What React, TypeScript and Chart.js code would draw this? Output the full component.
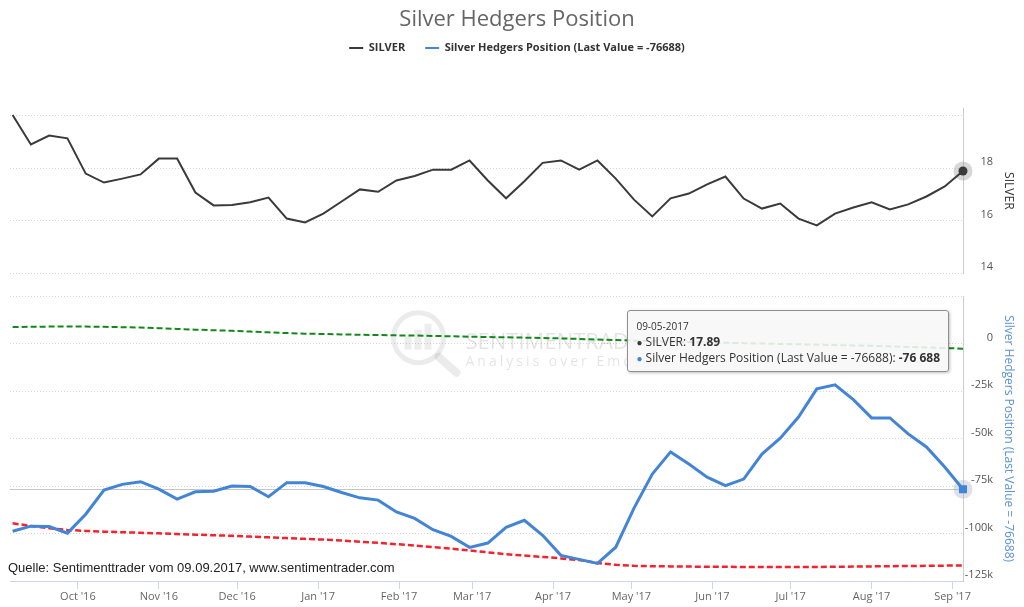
import React, { useEffect, useRef } from 'react';
import { Chart, registerables } from 'chart.js';

Chart.register(...registerables);
Chart.defaults.font.family = "'Open Sans', 'Noto Sans', sans-serif";

// ---------- data ----------
const DATES = [
  '2016-09-06', '2016-09-13', '2016-09-20', '2016-09-27', '2016-10-04', '2016-10-11', '2016-10-18', '2016-10-25',
  '2016-11-01', '2016-11-08', '2016-11-15', '2016-11-22', '2016-11-29', '2016-12-06', '2016-12-13', '2016-12-20',
  '2016-12-27', '2017-01-03', '2017-01-10', '2017-01-17', '2017-01-24', '2017-01-31', '2017-02-07', '2017-02-14',
  '2017-02-21', '2017-02-28', '2017-03-07', '2017-03-14', '2017-03-21', '2017-03-28', '2017-04-04', '2017-04-11',
  '2017-04-18', '2017-04-25', '2017-05-02', '2017-05-09', '2017-05-16', '2017-05-23', '2017-05-30', '2017-06-06',
  '2017-06-13', '2017-06-20', '2017-06-27', '2017-07-04', '2017-07-11', '2017-07-18', '2017-07-25', '2017-08-01',
  '2017-08-08', '2017-08-15', '2017-08-22', '2017-08-29', '2017-09-05',
];

const SILVER = [
  20.02, 18.9, 19.24, 19.13, 17.79, 17.45, 17.6, 17.76,
  18.36, 18.36, 17.07, 16.58, 16.6, 16.7, 16.88, 16.08,
  15.93, 16.27, 16.73, 17.19, 17.1, 17.53, 17.7, 17.94,
  17.94, 18.29, 17.53, 16.85, 17.5, 18.2, 18.29, 17.94,
  18.29, 17.6, 16.8, 16.16, 16.85, 17.03, 17.38, 17.68,
  16.84, 16.46, 16.65, 16.08, 15.82, 16.27, 16.5, 16.7,
  16.43, 16.62, 16.92, 17.3, 17.89,
];

const HEDGERS = [
  -98800, -96100, -96300, -99800, -89800, -77100, -74100, -72700,
  -76600, -81900, -78000, -77700, -75000, -75200, -80600, -73200,
  -73200, -75200, -78400, -81200, -82400, -88600, -92000, -98000,
  -101500, -107300, -105000, -96700, -93000, -100900, -111500, -113600,
  -115700, -107200, -86600, -68700, -57000, -63400, -70300, -74800,
  -71300, -58100, -49800, -38600, -23800, -21700, -29500, -39100,
  -39100, -47500, -54400, -65000, -76688,
];

const UPPER_BAND = [
  8800, 8900, 9000, 9000, 9000, 8900, 8700, 8500,
  8200, 7800, 7400, 7100, 6800, 6400, 6000, 5600,
  5300, 5100, 4900, 4700, 4600, 4400, 4300, 4100,
  3900, 3700, 3500, 3400, 3200, 3000, 2800, 2500,
  2200, 1900, 1600, 1300, 1100, 900, 700, 500,
  300, 100, -100, -300, -500, -700, -900, -1100,
  -1400, -1700, -2000, -2300, -2600,
];

const LOWER_BAND = [
  -94600, -96000, -97200, -98100, -98600, -99000, -99300, -99600,
  -99900, -100300, -100600, -100900, -101200, -101600, -102000, -102400,
  -102800, -103200, -103700, -104300, -104900, -105600, -106300, -107100,
  -108000, -108900, -109900, -110900, -111600, -112300, -113100, -114000,
  -115500, -116500, -117000, -117200, -117300, -117400, -117500, -117500,
  -117600, -117600, -117600, -117600, -117600, -117500, -117400, -117300,
  -117200, -117100, -117000, -116900, -116800,
];

const X_START = '2016-09-05';
const X_END = '2017-09-05';
const MONTH_TICKS = [
  '2016-10-01', '2016-11-01', '2016-12-01', '2017-01-01', '2017-02-01', '2017-03-01',
  '2017-04-01', '2017-05-01', '2017-06-01', '2017-07-01', '2017-08-01', '2017-09-01',
];
const MONTH_LABELS = [
  "Oct '16", "Nov '16", "Dec '16", "Jan '17", "Feb '17", "Mar '17",
  "Apr '17", "May '17", "Jun '17", "Jul '17", "Aug '17", "Sep '17",
];
const SILVER_TICKS = [14, 16, 18, 20];
const SILVER_LABELED = [14, 16, 18];
const SILVER_MIN = 14;
const SILVER_MAX = 20.27;
const HEDGER_TICKS = [-125000, -100000, -75000, -50000, -25000, 0, 25000];
const HEDGER_LABELED = [-125000, -100000, -75000, -50000, -25000, 0];
const HEDGER_MIN = -125000;
const HEDGER_MAX = 25000;

const TITLE = 'Silver Hedgers Position';
const HEDGE_LABEL = `Silver Hedgers Position (Last Value = ${HEDGERS[HEDGERS.length - 1]})`;
const SOURCE = 'Quelle: Sentimenttrader vom 09.09.2017, www.sentimentrader.com';

// ---------- helpers ----------
const DAY = 86400000;
const dayOf = (s: string) => (Date.parse(s) - Date.parse(X_START)) / DAY;
const fmtThousands = (v: number) => {
  const s = Math.abs(Math.round(v)).toString().replace(/\B(?=(\d{3})+(?!\d))/g, ' ');
  return (v < 0 ? '-' : '') + s;
};
const fmtDate = (s: string) => {
  const [y, m, d] = s.split('-');
  return `${m}-${d}-${y}`;
};
const fmtK = (v: number) => (v === 0 ? '0' : `${v / 1000}k`);

const DARK = '#3a3a3a';
const BLUE = '#4285d7';
const GREEN = '#11891a';
const RED = '#f5222d';

const overlayPlugin = {
  id: 'overlay',
  beforeDatasetsDraw(chart: any) {
    const { ctx, chartArea } = chart;
    const cx = (chartArea.left + chartArea.right) / 2;
    const cy = (chartArea.top + chartArea.bottom) / 2;
    ctx.save();
    // watermark logo
    const lx = cx - 68;
    const ly = cy - 7;
    ctx.strokeStyle = 'rgba(0,0,0,0.08)';
    ctx.lineWidth = 5;
    ctx.beginPath();
    ctx.arc(lx, ly, 25, 0, Math.PI * 2);
    ctx.stroke();
    ctx.lineWidth = 8;
    ctx.lineCap = 'round';
    ctx.beginPath();
    ctx.moveTo(lx + 20, ly + 19);
    ctx.lineTo(lx + 38, ly + 35);
    ctx.stroke();
    ctx.fillStyle = 'rgba(0,0,0,0.07)';
    ctx.fillRect(lx - 14, ly - 2, 7, 14);
    ctx.fillRect(lx - 4, ly - 8, 7, 20);
    ctx.fillRect(lx + 6, ly - 14, 7, 26);
    // watermark text
    ctx.fillStyle = 'rgba(0,0,0,0.11)';
    ctx.textBaseline = 'alphabetic';
    ctx.textAlign = 'left';
    ctx.font = "22px 'Open Sans'";
    ctx.fillText('SENTIMENTRADER', cx - 21, cy + 4);
    ctx.font = "14px 'Open Sans'";
    (ctx as any).letterSpacing = '3px';
    ctx.fillText('Analysis over Emotion', cx - 21, cy + 21);
    (ctx as any).letterSpacing = '0px';

    // crosshair + halos for active points
    const active = chart.getActiveElements();
    active.forEach((a: any) => {
      const el = a.element;
      if (a.datasetIndex === 1) {
        ctx.strokeStyle = '#c4c4c4';
        ctx.lineWidth = 1;
        ctx.beginPath();
        ctx.moveTo(chartArea.left, Math.round(el.y) + 0.5);
        ctx.lineTo(chartArea.right, Math.round(el.y) + 0.5);
        ctx.stroke();
      }
      ctx.fillStyle = a.datasetIndex === 1 ? 'rgba(160,172,190,0.35)' : 'rgba(140,140,140,0.35)';
      ctx.beginPath();
      ctx.arc(el.x, el.y, 9.5, 0, Math.PI * 2);
      ctx.fill();
    });
    ctx.restore();
  },
  afterDatasetsDraw(chart: any) {
    const { ctx, chartArea } = chart;
    ctx.save();
    ctx.font = "13px 'Liberation Sans', Arial, sans-serif";
    ctx.fillStyle = '#222';
    ctx.textBaseline = 'middle';
    ctx.textAlign = 'left';
    ctx.fillText(SOURCE, 8, chartArea.bottom - 13);
    ctx.restore();
  },
};

const legendSpacer = {
  id: 'legendSpacer',
  beforeInit(chart: any) {
    const legend = chart.legend;
    if (!legend) return;
    const orig = legend.fit;
    legend.fit = function () {
      orig.call(this);
      this.height += 45;
    };
  },
};

// right-align the y tick labels at a fixed distance from the axis line
const rightAlignLabels = (s: any, offset: number) => {
  s.width = 61;
  s._getYAxisLabelAlignment = () => ({ textAlign: 'right', x: s.left + offset });
};

export default function App() {
  const canvasRef = useRef<HTMLCanvasElement | null>(null);
  const tipRef = useRef<HTMLDivElement | null>(null);

  useEffect(() => {
    document.body.style.margin = '0';
    const canvas = canvasRef.current;
    if (!canvas) return;
    const pts = (vals: number[]) => DATES.map((d, i) => ({ x: dayOf(d), y: vals[i] }));

    const external = ({ chart, tooltip }: any) => {
      const el = tipRef.current;
      if (!el) return;
      if (!tooltip || tooltip.opacity === 0 || !tooltip.dataPoints || !tooltip.dataPoints.length) {
        el.style.display = 'none';
        return;
      }
      const items = tooltip.dataPoints;
      const idx = items[0].dataIndex;
      const rows = items
        .map((it: any) => {
          const color = it.datasetIndex === 0 ? DARK : BLUE;
          const v = it.datasetIndex === 0 ? Number(it.raw.y).toFixed(2) : fmtThousands(it.raw.y);
          return `<div style="font-size:12px;line-height:15px"><span style="color:${color};font-size:10px">\u25CF</span> ${it.dataset.label}: <b>${v}</b></div>`;
        })
        .join('');
      el.innerHTML = `<div style="font-size:10px;line-height:15px">${fmtDate(DATES[idx])}</div>${rows}`;
      el.style.display = 'block';
      el.style.top = `${chart.scales.yHedge.top + 14}px`;
      el.style.right = `${chart.width - tooltip.caretX + 14}px`;
    };

    const chart = new Chart(canvas, {
      type: 'line',
      data: {
        datasets: [
          {
            label: 'SILVER',
            data: pts(SILVER),
            xAxisID: 'x',
            yAxisID: 'ySilver',
            borderColor: DARK,
            backgroundColor: DARK,
            borderWidth: 2,
            pointRadius: 0,
            pointHoverRadius: 4.5,
            pointHoverBorderWidth: 0,
            pointHoverBackgroundColor: DARK,
            tension: 0,
            clip: 12,
          },
          {
            label: HEDGE_LABEL,
            data: pts(HEDGERS),
            xAxisID: 'x',
            yAxisID: 'yHedge',
            borderColor: BLUE,
            backgroundColor: BLUE,
            borderWidth: 3,
            pointRadius: 0,
            pointStyle: 'rect',
            pointHoverRadius: 5.7,
            pointHoverBorderWidth: 0,
            pointHoverBackgroundColor: BLUE,
            tension: 0,
            clip: 12,
          },
          {
            label: 'Upper band',
            data: pts(UPPER_BAND),
            xAxisID: 'x',
            yAxisID: 'yHedge',
            borderColor: GREEN,
            backgroundColor: GREEN,
            borderWidth: 2,
            borderDash: [6, 3],
            pointRadius: 0,
            pointHoverRadius: 0,
            tension: 0,
          },
          {
            label: 'Lower band',
            data: pts(LOWER_BAND),
            xAxisID: 'x',
            yAxisID: 'yHedge',
            borderColor: RED,
            backgroundColor: RED,
            borderWidth: 2.5,
            borderDash: [6, 3],
            pointRadius: 0,
            pointHoverRadius: 0,
            tension: 0,
          },
        ],
      },
      options: {
        animation: false,
        responsive: true,
        maintainAspectRatio: false,
        events: [],
        interaction: { mode: 'index', intersect: false },
        layout: { padding: { left: 10, right: 0, top: 0, bottom: 0 } },
        scales: {
          x: {
            type: 'linear',
            min: dayOf(X_START),
            max: dayOf(X_END),
            grid: { display: true, drawOnChartArea: false, drawTicks: true, tickLength: 8, color: '#ccd6eb' },
            border: { display: true, color: '#ccd6eb' },
            afterBuildTicks: (s: any) => {
              s.ticks = MONTH_TICKS.map((d) => ({ value: dayOf(d) }));
            },
            afterFit: (s: any) => {
              s.height = 26;
            },
            ticks: {
              autoSkip: false,
              maxRotation: 0,
              padding: 1,
              color: '#666',
              font: { size: 11 },
              callback: (_v: any, i: number) => MONTH_LABELS[i],
            },
          },
          ySilver: {
            type: 'linear',
            position: 'right',
            stack: 'panels',
            stackWeight: 165,
            weight: 1,
            min: SILVER_MIN,
            max: SILVER_MAX,
            afterBuildTicks: (s: any) => {
              s.ticks = SILVER_TICKS.map((v) => ({ value: v }));
            },
            afterFit: (s: any) => rightAlignLabels(s, 30),
            grid: { color: '#d6d6d6', drawTicks: false },
            border: { display: true, color: '#cccccc', dash: [1, 2] },
            ticks: {
              padding: 4,
              labelOffset: -6,
              color: '#555',
              font: { size: 11 },
              callback: (v: any) => (SILVER_LABELED.includes(v) ? String(v) : ''),
            },
            title: { display: true, text: 'SILVER', color: '#333', font: { size: 12 }, padding: { top: 8, bottom: 0 } },
          },
          yGap: {
            type: 'linear',
            position: 'right',
            stack: 'panels',
            stackWeight: 23,
            weight: 2,
            display: false,
          },
          yHedge: {
            type: 'linear',
            position: 'right',
            stack: 'panels',
            stackWeight: 285,
            weight: 3,
            min: HEDGER_MIN,
            max: HEDGER_MAX,
            afterBuildTicks: (s: any) => {
              s.ticks = HEDGER_TICKS.map((v) => ({ value: v }));
            },
            afterFit: (s: any) => rightAlignLabels(s, 30),
            grid: { color: '#d6d6d6', drawTicks: false },
            border: { display: true, color: '#cccccc', dash: [1, 2] },
            ticks: {
              padding: 2,
              labelOffset: -6,
              color: '#555',
              font: { size: 11 },
              callback: (v: any) => (HEDGER_LABELED.includes(v) ? fmtK(v) : ''),
            },
            title: { display: true, text: HEDGE_LABEL, color: '#5b93d6', font: { size: 12 }, padding: { top: 8, bottom: 0 } },
          },
        },
        plugins: {
          title: {
            display: true,
            text: TITLE,
            color: '#666',
            font: { size: 22, weight: 'normal' },
            padding: { top: 7, bottom: -11 },
          },
          legend: {
            display: true,
            position: 'top',
            labels: {
              boxWidth: 14,
              boxHeight: 2,
              padding: 20,
              color: '#333',
              font: { size: 11, weight: 'bold' },
              filter: (item: any) => item.datasetIndex < 2,
              generateLabels: (c: any) =>
                (Chart.defaults.plugins.legend.labels.generateLabels as any)(c).map((l: any) => ({
                  ...l,
                  fillStyle: l.strokeStyle,
                  lineWidth: 0,
                  lineDash: [],
                })),
            },
          },
          tooltip: {
            enabled: false,
            external,
            filter: (item: any) => item.datasetIndex < 2,
          },
        },
      },
      plugins: [overlayPlugin, legendSpacer],
    } as any);

    const last = DATES.length - 1;
    const els = [
      { datasetIndex: 0, index: last },
      { datasetIndex: 1, index: last },
    ];
    chart.setActiveElements(els);
    chart.update();
    const p = chart.getDatasetMeta(1).data[last] as any;
    chart.tooltip?.setActiveElements(els, { x: p.x, y: p.y });
    chart.update();

    return () => {
      chart.destroy();
    };
  }, []);

  return (
    <div style={{ position: 'fixed', left: 0, top: 0, width: 1024, height: 607, background: '#fff' }}>
      <canvas ref={canvasRef} />
      <div
        ref={tipRef}
        style={{
          position: 'absolute',
          display: 'none',
          background: 'rgba(247,247,247,0.88)',
          border: '1px solid #8f8f8f',
          borderRadius: 3,
          boxShadow: '1px 1px 3px rgba(0,0,0,0.25)',
          padding: '8px 8px 5px 8px',
          fontFamily: "'Open Sans', sans-serif",
          color: '#333',
          whiteSpace: 'nowrap',
          pointerEvents: 'none',
        }}
      />
    </div>
  );
}
